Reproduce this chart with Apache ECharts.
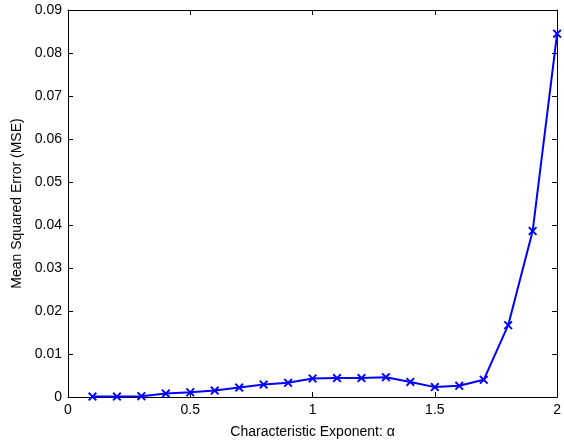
<!DOCTYPE html>
<html>
<head>
<meta charset="utf-8">
<script src="https://cdn.jsdelivr.net/npm/echarts@6/dist/echarts.min.js"></script>
<style>
  html, body { margin: 0; padding: 0; background: #fff; }
  #chart { width: 564px; height: 447px; }
</style>
</head>
<body>
<div id="chart"></div>
<script>
// alpha values and the MSE
var alphas = [0.1, 0.2, 0.3, 0.4, 0.5, 0.6, 0.7, 0.8, 0.9, 1.0,
              1.1, 1.2, 1.3, 1.4, 1.5, 1.6, 1.7, 1.8, 1.9, 2.0];
var mse = [0.0001, 0.0001, 0.0002, 0.0008, 0.0011, 0.0015, 0.0022, 0.0029, 0.0033, 0.0043,
           0.0044, 0.0044, 0.0046, 0.0035, 0.0023, 0.0026, 0.0040, 0.0167, 0.0386, 0.0845];
var xTicks = ['0', '0.5', '1', '1.5', '2'];

var font = 'Liberation Sans, Arial, Helvetica, sans-serif';
var crossPath = 'path://M0,1.5L1.5,0L5,3.5L8.5,0L10,1.5L6.5,5L10,8.5L8.5,10L5,6.5L1.5,10L0,8.5L3.5,5Z';

var chart = echarts.init(document.getElementById('chart'));

function tickAxis(extra) {
    return Object.assign({
        type: 'value',
        axisLine: { show: true, onZero: false, lineStyle: { color: '#000', width: 1 } },
        axisTick: { show: true, inside: true, length: 5, lineStyle: { color: '#000' } },
        splitLine: { show: false }
    }, extra);
}

chart.setOption({
    animation: false,
    grid: { left: 68, right: 5, top: 10, bottom: 50 },
    xAxis: [
        tickAxis({
            min: 0, max: 2, interval: 0.5,
            name: 'Characteristic Exponent: α',
            nameLocation: 'middle',
            nameGap: 28,
            nameTextStyle: { color: '#000', fontSize: 14, fontFamily: font },
            axisLabel: {
                color: '#000', fontSize: 14, fontFamily: font, margin: 6,
                formatter: function (v) { return xTicks[Math.round(v / 0.5)]; }
            }
        }),
        tickAxis({
            min: 0, max: 2, interval: 0.5, position: 'top',
            axisLabel: { show: false }
        })
    ],
    yAxis: [
        tickAxis({
            min: 0, max: 0.09, interval: 0.01,
            name: 'Mean Squared Error (MSE)',
            nameLocation: 'middle',
            nameGap: 44,
            nameTextStyle: { color: '#000', fontSize: 14, fontFamily: font },
            axisLabel: {
                color: '#000', fontSize: 14, fontFamily: font, margin: 6,
                formatter: function (v) { return String(+v.toFixed(2)); }
            }
        }),
        tickAxis({
            min: 0, max: 0.09, interval: 0.01, position: 'right',
            axisLabel: { show: false }
        })
    ],
    series: [{
        type: 'line',
        data: alphas.map(function (a, i) { return [a, mse[i]]; }),
        lineStyle: { color: '#0000ff', width: 2 },
        itemStyle: { color: '#0000ff' },
        symbol: crossPath,
        symbolSize: 9,
        showSymbol: true
    }]
});
</script>
</body>
</html>
